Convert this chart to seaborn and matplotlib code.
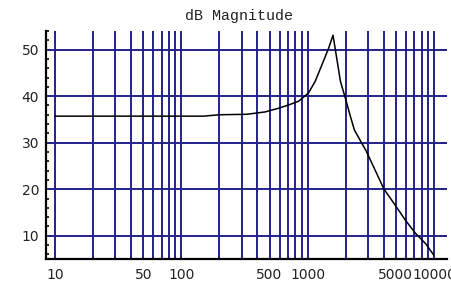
import matplotlib
matplotlib.use("Agg")
import matplotlib.pyplot as plt
import matplotlib.ticker as mticker
import pandas as pd
import seaborn as sns

# frequency response
freq = [10, 20, 50, 100, 150, 200, 330, 460, 590, 707, 849, 1018, 1150, 1298,
        1468, 1590, 1710, 1820, 1990, 2180, 2350, 2900, 3440, 4010, 4960,
        5960, 7160, 8600, 10000]
mag_db = [35.7, 35.7, 35.7, 35.7, 35.7, 36.0, 36.1, 36.6, 37.4, 38.1, 38.9,
          40.7, 43.2, 46.7, 50.3, 53.1, 47.8, 43.2, 39.6, 35.7, 32.7, 28.3,
          24.0, 20.1, 16.5, 13.3, 10.5, 8.3, 5.8]

grid_x = [10, 20, 30, 40, 50, 60, 70, 80, 90, 100,
          200, 300, 400, 500, 600, 700, 800, 900, 1000,
          2000, 3000, 4000, 5000, 6000, 7000, 8000, 9000, 10000]
grid_y = [10, 20, 30, 40, 50]
xtick_vals = [10, 50, 100, 500, 1000, 5000, 10000]
xtick_labels = ["10", "50", "100", "500", "1000", "5000", "10000"]

df = pd.DataFrame({"freq": freq, "mag": mag_db})

sns.set_theme(style="white")
plt.rcParams["font.family"] = ["DejaVu Sans"]

fig = plt.figure(figsize=(4.52, 2.82), dpi=100)
ax = fig.add_axes([46 / 452, 1 - 259 / 282, 401 / 452, 228 / 282])

grid_color = "#22228c"
for gx in grid_x:
    ax.axvline(gx, color=grid_color, lw=1.4, zorder=1)
for gy in grid_y:
    ax.axhline(gy, color=grid_color, lw=1.4, zorder=1)

sns.lineplot(data=df, x="freq", y="mag", color="black", lw=1.1, ax=ax, zorder=3)

ax.set_xscale("log")
ax.set_xlim(8.5, 12700)
ax.set_ylim(5, 54)

ax.xaxis.set_major_locator(mticker.FixedLocator(xtick_vals))
ax.xaxis.set_major_formatter(mticker.FixedFormatter(xtick_labels))
ax.xaxis.set_minor_locator(mticker.FixedLocator(grid_x))
ax.xaxis.set_minor_formatter(mticker.NullFormatter())
ax.yaxis.set_major_locator(mticker.FixedLocator(grid_y))
ax.yaxis.set_minor_locator(mticker.MultipleLocator(2))

ax.tick_params(axis="both", which="both", direction="in", colors="black",
               labelcolor="#222222", labelsize=10)
ax.tick_params(axis="x", which="both", length=2.5, width=1.2, pad=6.5,
               top=True, bottom=True)
ax.tick_params(axis="y", which="major", length=3.5, width=1.2, pad=5,
               left=True, right=True)
ax.tick_params(axis="y", which="minor", length=2.5, width=1.2, left=True)

for side in ["top", "right"]:
    ax.spines[side].set_visible(False)
for side in ["left", "bottom"]:
    ax.spines[side].set_color("black")
    ax.spines[side].set_linewidth(1.6)

ax.set_xlabel("")
ax.set_ylabel("")
ax.set_title("dB Magnitude", fontsize=10.8, family=["Liberation Mono"],
             x=(239 - 46) / 401, pad=8, color="#222222")

fig.savefig("out.png", dpi=100)
